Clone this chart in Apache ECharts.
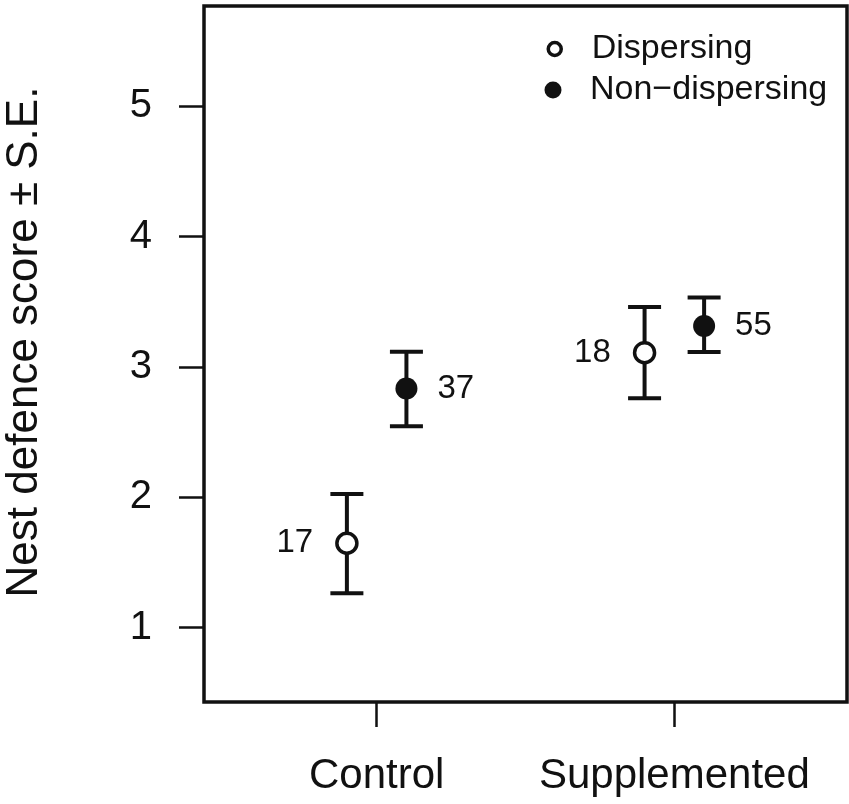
<!DOCTYPE html>
<html>
<head>
<meta charset="utf-8">
<script src="https://cdn.jsdelivr.net/npm/echarts@6/dist/echarts.min.js"></script>
<style>html,body{margin:0;padding:0;background:#fff;}#c{width:849px;height:804px;}</style>
</head>
<body>
<div id="c"></div>
<script>
const groups = ['Control', 'Supplemented'];
const groupX = [1, 2];
const dispMean = [1.648, 3.11];
const dispUpper = [2.025, 3.46];
const dispLower = [1.264, 2.76];
const dispN = ['17', '18'];
const nonMean = [2.836, 3.315];
const nonUpper = [3.118, 3.533];
const nonLower = [2.546, 3.115];
const nonN = ['37', '55'];
const yTicks = [1, 2, 3, 4, 5];

const OFFSET = 0.1;
const FONT = 'Liberation Sans, Arial, Helvetica, sans-serif';
const INK = '#111';

function pts(means, sign, ns) {
  return groupX.map((x, i) => ({ value: [x + sign * OFFSET, means[i]], n: ns[i] }));
}
function bars(lo, hi, sign) {
  return groupX.map((x, i) => [x + sign * OFFSET, lo[i], hi[i]]);
}
function renderErr(params, api) {
  const x = api.value(0);
  const p1 = api.coord([x, api.value(1)]);
  const p2 = api.coord([x, api.value(2)]);
  const hw = 16.5;
  const st = { stroke: INK, lineWidth: 4, lineCap: 'butt' };
  return {
    type: 'group',
    children: [
      { type: 'line', shape: { x1: p1[0], y1: p1[1], x2: p2[0], y2: p2[1] }, style: st },
      { type: 'line', shape: { x1: p1[0] - hw, y1: p1[1], x2: p1[0] + hw, y2: p1[1] }, style: st },
      { type: 'line', shape: { x1: p2[0] - hw, y1: p2[1], x2: p2[0] + hw, y2: p2[1] }, style: st }
    ]
  };
}

const legendText = { fontFamily: FONT, fontSize: 34, color: INK, lineHeight: 34 };

const chart = echarts.init(document.getElementById('c'));
chart.setOption({
  animation: false,
  backgroundColor: '#fff',
  grid: {
    left: 204, right: 2, top: 6, bottom: 102,
    outerBoundsMode: 'none', containLabel: false,
    show: true, borderColor: INK, borderWidth: 3.5, backgroundColor: 'transparent'
  },
  legend: [
    {
      left: 541.5, top: 27, orient: 'vertical',
      itemWidth: 13, itemHeight: 13,
      textStyle: Object.assign({ padding: [0, 0, 0, 25.5] }, legendText),
      data: [{ name: 'Dispersing', icon: 'circle', itemStyle: { color: '#fff', borderColor: INK, borderWidth: 3.5 } }]
    },
    {
      left: 539.5, top: 68, orient: 'vertical',
      itemWidth: 17, itemHeight: 17,
      textStyle: Object.assign({ padding: [0, 0, 0, 23.5] }, legendText),
      data: [{ name: 'Non\u2212dispersing', icon: 'circle', itemStyle: { color: INK, borderWidth: 0 } }]
    }
  ],
  xAxis: {
    type: 'value', min: 0.42, max: 2.58,
    splitLine: { show: false },
    axisLine: { show: false },
    axisTick: { show: true, length: 25, lineStyle: { color: INK, width: 2.5 }, customValues: groupX },
    axisLabel: {
      margin: 53, fontFamily: FONT, fontSize: 42, color: INK,
      customValues: groupX,
      formatter: v => groups[groupX.indexOf(v)] || ''
    }
  },
  yAxis: {
    type: 'value', min: 0.43, max: 5.77,
    name: 'Nest defence score \u00b1 S.E.',
    nameLocation: 'middle', nameGap: 157, nameRotate: 90,
    nameTextStyle: { fontFamily: FONT, fontSize: 44, color: INK, padding: [0, 0, 0, 24] },
    splitLine: { show: false },
    axisLine: { show: false },
    axisTick: { show: true, length: 25, lineStyle: { color: INK, width: 2.5 }, customValues: yTicks },
    axisLabel: { margin: 52, fontFamily: FONT, fontSize: 40, color: INK, customValues: yTicks }
  },
  series: [
    { type: 'custom', name: 'errD', renderItem: renderErr, data: bars(dispLower, dispUpper, -1), z: 2, silent: true, encode: { x: 0, y: [1, 2] } },
    { type: 'custom', name: 'errN', renderItem: renderErr, data: bars(nonLower, nonUpper, 1), z: 2, silent: true, encode: { x: 0, y: [1, 2] } },
    {
      type: 'scatter', name: 'Dispersing', data: pts(dispMean, -1, dispN), z: 3,
      symbol: 'circle', symbolSize: 20,
      itemStyle: { color: '#fff', borderColor: INK, borderWidth: 3.5, opacity: 1 },
      label: { show: true, position: 'left', distance: 22, formatter: p => p.data.n, fontFamily: FONT, fontSize: 33, color: INK }
    },
    {
      type: 'scatter', name: 'Non\u2212dispersing', data: pts(nonMean, 1, nonN), z: 3,
      symbol: 'circle', symbolSize: 22,
      itemStyle: { color: INK, opacity: 1 },
      label: { show: true, position: 'right', distance: 20, formatter: p => p.data.n, fontFamily: FONT, fontSize: 33, color: INK }
    }
  ]
});
</script>
</body>
</html>
